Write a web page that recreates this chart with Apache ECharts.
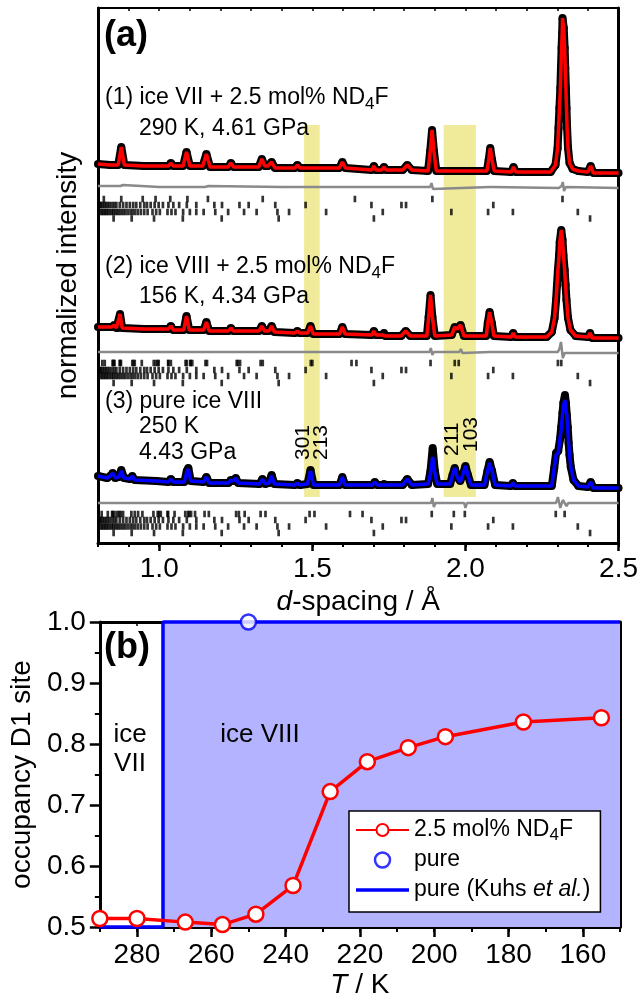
<!DOCTYPE html>
<html>
<head>
<meta charset="utf-8">
<script src="https://cdn.jsdelivr.net/npm/echarts@6/dist/echarts.min.js"></script>
<style>
html, body { margin: 0; padding: 0; background: #fff; }
#chart { width: 641px; height: 1000px; }
</style>
</head>
<body>
<div id="chart"></div>
<script>
var FONT = '"Liberation Sans", Arial, Helvetica, sans-serif';

// ---- panel (a): d-spacing (Å) vs stacked normalized intensity ----
var obs1 = [[0.800,379],[0.840,378],[0.866,378],[0.876,396],[0.886,378],[0.950,377],[1.030,377],[1.038,380],[1.046,377],
  [1.078,377],[1.089,391],[1.100,377],[1.142,377],[1.154,389],[1.166,376],[1.225,376],[1.234,380],[1.243,376],
  [1.325,376],[1.335,384],[1.345,377],[1.355,377],[1.367,381],[1.378,375],[1.443,375],[1.451,378],[1.460,375],
  [1.588,375],[1.598,381],[1.608,375],[1.694,373],[1.701,377],[1.708,373],[1.727,373],[1.734,376],[1.741,373],
  [1.795,373],[1.810,378],[1.825,373],[1.878,372],[1.885,392],[1.891,413],[1.897,392],[1.905,372],
  [2.070,372],[2.076,383],[2.081,395],[2.087,383],[2.094,372],[2.150,371],[2.157,376],[2.165,371],
  [2.278,371],[2.294,378],[2.301,395],[2.304,415],[2.307,435],[2.310,455],[2.312,475],[2.314,495],[2.316,510],[2.317,525],
  [2.321,515],[2.324,495],[2.326,475],[2.328,455],[2.330,435],[2.332,415],[2.335,395],[2.340,380],[2.350,374],[2.369,372],
  [2.400,371],[2.409,377],[2.418,370],[2.500,370]];
var calc1 = obs1;
var diff1 = [[0.800,357],[0.874,357],[0.877,355],[0.881,358],[0.885,356],[1.000,356],[1.150,356],[1.155,354],[1.160,357],
  [1.400,356],[1.600,356],[1.885,356],[1.889,360],[1.894,354],[1.899,356],[2.080,356],[2.083,354],[2.087,356],
  [2.305,355],[2.314,357],[2.318,361],[2.322,352],[2.328,356],[2.500,355]];

var obs2 = [[0.800,216],[0.845,216],[0.853,218],[0.860,215],[0.866,215],[0.872,229],[0.879,215],[0.950,214],[1.030,214],
  [1.038,217],[1.046,213],[1.080,213],[1.089,227],[1.098,213],[1.145,213],[1.154,221],[1.163,212],[1.226,212],[1.234,215],
  [1.242,212],[1.326,212],[1.335,217],[1.344,212],[1.358,212],[1.367,217],[1.376,211],[1.443,210],[1.451,212],[1.459,210],
  [1.485,210],[1.494,217],[1.503,209],[1.589,209],[1.598,216],[1.607,209],[1.694,208],[1.701,212],[1.708,208],[1.728,208],
  [1.734,210],[1.740,207],[1.790,207],[1.805,212],[1.820,207],[1.874,207],[1.880,226],[1.886,248],[1.892,226],[1.900,207],
  [1.955,208],[1.965,216],[1.973,214],[1.984,218],[1.995,207],[2.068,207],[2.073,220],[2.079,231],[2.086,220],[2.093,207],
  [2.150,206],[2.156,210],[2.163,206],[2.265,206],[2.282,211],[2.291,225],[2.296,243],[2.299,258],[2.302,273],[2.306,288],
  [2.308,301],[2.313,313],[2.317,303],[2.320,288],[2.324,273],[2.327,258],[2.330,243],[2.335,225],[2.343,213],[2.360,207],
  [2.400,206],[2.407,210],[2.414,205],[2.500,205]];
var calc2 = obs2;
var diff2 = [[0.800,191],[0.872,191],[0.875,189],[0.878,192],[1.000,191],[1.400,191],[1.883,191],[1.887,195],[1.892,188],
  [1.897,191],[1.980,191],[1.985,194],[1.990,190],[2.080,191],[2.302,191],[2.308,195],[2.312,201],[2.318,185],[2.324,190],
  [2.330,191],[2.500,190]];

var obs3 = [[0.800,67],[0.830,65],[0.840,67],[0.848,70],[0.856,65],[0.868,66],[0.876,73],[0.885,65],[0.905,64],[0.912,67],
  [0.920,63],[0.990,62],[1.030,61],[1.038,64],[1.046,61],[1.082,61],[1.090,72],[1.095,75],[1.103,62],[1.145,61],[1.154,66],
  [1.163,60],[1.226,60],[1.234,63],[1.242,62],[1.250,65],[1.258,60],[1.328,59],[1.337,64],[1.346,59],[1.358,60],[1.367,68],
  [1.376,59],[1.443,58],[1.451,60],[1.459,58],[1.484,59],[1.494,73],[1.504,58],[1.589,58],[1.598,66],[1.607,58],[1.696,58],
  [1.704,61],[1.712,58],[1.728,58],[1.734,59],[1.740,58],[1.795,58],[1.810,64],[1.825,58],[1.878,59],[1.886,72],[1.893,95],
  [1.900,72],[1.908,59],[1.950,59],[1.958,68],[1.965,75],[1.973,66],[1.983,62],[1.991,68],[2.000,77],[2.008,68],[2.018,58],
  [2.062,58],[2.072,72],[2.079,81],[2.087,72],[2.097,58],[2.148,57],[2.155,60],[2.162,57],[2.282,57],[2.290,75],[2.296,90],
  [2.303,92],[2.309,104],[2.313,116],[2.317,130],[2.320,140],[2.325,148],[2.328,140],[2.331,128],[2.334,116],[2.337,100],
  [2.340,88],[2.344,76],[2.353,63],[2.369,57],[2.400,56],[2.409,61],[2.418,55],[2.500,55]];
var calc3 = [[0.800,67],[0.830,65],[0.840,67],[0.848,70],[0.856,65],[0.868,66],[0.876,72],[0.885,65],[0.905,64],[0.912,67],
  [0.920,63],[0.990,62],[1.030,61],[1.038,64],[1.046,61],[1.082,61],[1.090,71],[1.095,74],[1.103,62],[1.145,61],[1.154,66],
  [1.163,60],[1.226,60],[1.234,63],[1.242,62],[1.250,65],[1.258,60],[1.328,59],[1.337,64],[1.346,59],[1.358,60],[1.367,67],
  [1.376,59],[1.443,58],[1.451,60],[1.459,58],[1.484,59],[1.494,72],[1.504,58],[1.589,58],[1.598,66],[1.607,58],[1.696,58],
  [1.704,61],[1.712,58],[1.728,58],[1.734,59],[1.740,58],[1.795,58],[1.810,64],[1.825,58],[1.878,59],[1.886,70],[1.893,86],
  [1.900,70],[1.908,59],[1.950,59],[1.958,68],[1.965,75],[1.973,66],[1.983,61],[1.991,68],[2.000,77],[2.008,68],[2.018,58],
  [2.062,58],[2.072,72],[2.079,80],[2.087,72],[2.097,58],[2.148,57],[2.155,60],[2.162,57],[2.282,57],[2.290,75],[2.296,88],
  [2.303,90],[2.313,115],[2.320,138],[2.325,143],[2.331,128],[2.337,100],[2.344,76],[2.353,63],[2.369,57],[2.400,56],
  [2.409,61],[2.418,55],[2.500,55]];
var diff3 = [[0.800,40],[0.874,40],[0.877,38],[0.880,40],[1.400,40],[1.495,40],[1.498,38],[1.502,40],[1.888,40],[1.892,45],
  [1.897,36],[1.902,40],[1.996,40],[2.000,35],[2.005,40],[2.296,40],[2.302,46],[2.310,35],[2.318,43],[2.324,42],[2.330,37],
  [2.336,40],[2.500,40]];

// reflection tick marks (d, Å): row 1 = ice phase, rows 2-4 = other phases in the cell
var iceVIITicks = [0.819,0.876,0.946,0.988,1.036,1.092,1.159,1.338,1.639,1.892,2.317];
var iceVIII2Ticks = [0.814,0.822,0.848,0.849,0.851,0.854,0.871,0.872,0.875,0.912,0.916,0.920,0.943,0.982,0.989,0.995,0.998,
  1.029,1.030,1.038,1.086,1.090,1.101,1.103,1.108,1.151,1.156,1.253,1.257,1.264,1.331,1.338,1.495,1.500,1.628,1.644,
  1.886,1.965,1.978,2.302,2.313];
var iceVIII3Ticks = [0.812,0.832,0.846,0.848,0.854,0.863,0.869,0.874,0.882,0.909,0.920,0.931,0.945,0.981,0.995,0.999,1.005,
  1.027,1.029,1.050,1.085,1.094,1.098,1.104,1.117,1.148,1.162,1.251,1.260,1.279,1.331,1.347,1.491,1.507,1.623,1.664,
  1.890,1.962,1.998,2.295,2.324];
var phaseBTicks = [0.803,0.806,0.810,0.815,0.821,0.826,0.832,0.838,0.846,0.853,0.860,0.871,0.882,0.893,0.904,0.915,0.925,
  0.938,0.951,0.960,0.972,0.985,0.998,1.012,1.030,1.046,1.065,1.090,1.121,1.180,1.205,1.262,1.292,1.379,1.478,1.693,
  1.791,1.806,2.091];
var phaseCTicks = [0.808,0.813,0.818,0.823,0.828,0.833,0.839,0.845,0.850,0.856,0.862,0.868,0.875,0.882,0.889,0.897,0.906,
  0.913,0.921,0.930,0.940,0.951,0.962,0.978,0.990,1.002,1.027,1.040,1.053,1.078,1.100,1.121,1.145,1.183,1.225,1.277,
  1.318,1.386,1.424,1.545,1.730,1.954,2.074,2.155,2.367];
var phaseDTicks = [0.802,0.851,0.910,0.983,1.077,1.204,1.390,1.701,2.407];
var tickRows1 = [344, 338, 331, 324.5];
var tickRows2 = [180, 173, 167, 160];
var tickRows3 = [29, 23, 16.5, 10];

// highlighted d-ranges (Å)
var bands = [[1.473, 1.524], [1.929, 2.034]];
var bandLevels = [46, 418];

// ---- panel (b): occupancy of D1 site vs temperature ----
var tempND4F = [290, 280, 267, 257, 248, 238, 228, 218, 207, 197, 176, 155];
var occND4F = [0.514, 0.514, 0.508, 0.504, 0.521, 0.568, 0.722, 0.771, 0.794, 0.812, 0.836, 0.843];
var tempPure = [250];
var occPure = [1.0];
var tempKuhs = [290, 273, 273, 150];
var occKuhs = [0.5, 0.5, 1.0, 1.0];

function zip(xs, ys) {
  return xs.map(function (x, i) { return [x, ys[i]]; });
}
function tickData(lists, levels) {
  var out = [];
  lists.forEach(function (list, i) {
    list.forEach(function (d) { out.push([d, levels[i]]); });
  });
  return out;
}

var chart = echarts.init(document.getElementById('chart'));

var txt = { fontFamily: FONT, color: '#000' };
function lineAxis(extra) {
  return Object.assign({
    axisLine: { show: true, lineStyle: { color: '#000', width: 3 } },
    axisTick: { show: false },
    axisLabel: { show: false },
    splitLine: { show: false }
  }, extra);
}

function obsSeries(data) {
  return {
    type: 'line', xAxisIndex: 0, yAxisIndex: 0, data: data, z: 3,
    symbol: 'circle', symbolSize: 8, showSymbol: true,
    itemStyle: { color: '#000' },
    lineStyle: { color: '#000', width: 8 },
    silent: true, animation: false
  };
}
function fitSeries(data, color) {
  return {
    type: 'line', xAxisIndex: 0, yAxisIndex: 0, data: data, z: 4,
    symbol: 'none', lineStyle: { color: color, width: 3.5 },
    silent: true, animation: false
  };
}
function diffSeries(data) {
  return {
    type: 'line', xAxisIndex: 0, yAxisIndex: 0, data: data, z: 3,
    symbol: 'none', lineStyle: { color: '#8a8a8a', width: 2.5 },
    silent: true, animation: false
  };
}
function tickSeries(data) {
  return {
    type: 'scatter', xAxisIndex: 0, yAxisIndex: 0, data: data, z: 3,
    symbol: 'rect', symbolSize: [2.7, 6.5], itemStyle: { color: '#000' },
    silent: true, animation: false
  };
}
function label(x, y, text, size, extra) {
  return {
    type: 'text', x: x, y: y, z: 100, rotation: (extra && extra.rotation) || 0,
    style: Object.assign({
      text: text, font: size + 'px ' + FONT, fill: '#000', verticalAlign: 'middle'
    }, extra && extra.style)
  };
}
var subRich = { s: { font: '17px ' + FONT, verticalAlign: 'bottom', lineHeight: 14 } };

var option = {
  backgroundColor: '#fff',
  animation: false,
  textStyle: { fontFamily: FONT },
  grid: [
    { left: 98, top: 8, width: 522, height: 535 },
    { left: 98, top: 622, width: 522, height: 305 }
  ],
  xAxis: [
    {
      gridIndex: 0, type: 'value', position: 'bottom', min: 0.8, max: 2.5, interval: 0.1,
      axisLine: { lineStyle: { color: '#000', width: 3 } },
      axisTick: { length: 4, lineStyle: { color: '#000', width: 2 } },
      axisLabel: Object.assign({
        fontSize: 28, margin: 12,
        formatter: function (v) {
          var r = Math.round(v * 10);
          return (r % 5 === 0 && r >= 10) ? (r / 10).toFixed(1) : '';
        }
      }, txt),
      splitLine: { show: false },
      name: '{i|d}-spacing / Å', nameLocation: 'middle', nameGap: 40,
      nameTextStyle: Object.assign({ fontSize: 28, rich: { i: { fontSize: 28, fontStyle: 'italic', fontFamily: FONT } } }, txt)
    },
    {
      gridIndex: 0, type: 'value', position: 'bottom', min: 0.8, max: 2.5, interval: 0.1,
      axisLine: { show: false },
      axisTick: { length: 8, customValues: [1.0, 1.5, 2.0, 2.5], lineStyle: { color: '#000', width: 2.5 } },
      axisLabel: { show: false }, splitLine: { show: false }
    },
    lineAxis({
      gridIndex: 0, type: 'value', position: 'top', min: 0.8, max: 2.5, interval: 0.1,
      axisLine: { lineStyle: { color: '#000', width: 2 } },
      axisTick: { show: true, inside: true, length: 3, lineStyle: { color: '#000', width: 1.5 } }
    }),
    {
      gridIndex: 1, type: 'value', position: 'bottom', min: 150, max: 290, interval: 10, inverse: true,
      axisLine: { lineStyle: { color: '#000', width: 3 } },
      axisTick: { length: 5, lineStyle: { color: '#000', width: 2 } },
      axisLabel: Object.assign({
        fontSize: 28, margin: 14,
        formatter: function (v) { return v % 20 === 0 ? String(v) : ''; }
      }, txt),
      splitLine: { show: false },
      name: '{i|T} / K', nameLocation: 'middle', nameGap: 44,
      nameTextStyle: Object.assign({ fontSize: 28, rich: { i: { fontSize: 28, fontStyle: 'italic', fontFamily: FONT } } }, txt)
    },
    {
      gridIndex: 1, type: 'value', position: 'bottom', min: 150, max: 290, interval: 10, inverse: true,
      axisLine: { show: false },
      axisTick: { length: 10, customValues: [160, 180, 200, 220, 240, 260, 280], lineStyle: { color: '#000', width: 2.5 } },
      axisLabel: { show: false }, splitLine: { show: false }
    },
    lineAxis({
      gridIndex: 1, type: 'value', position: 'top', min: 150, max: 290, interval: 10, inverse: true,
      axisTick: { show: true, inside: true, length: 4, lineStyle: { color: '#000', width: 1.5 } }
    })
  ],
  yAxis: [
    lineAxis({
      gridIndex: 0, type: 'value', position: 'left', min: 0, max: 535,
      name: 'normalized intensity', nameLocation: 'middle', nameGap: 16,
      nameTextStyle: Object.assign({ fontSize: 28 }, txt)
    }),
    lineAxis({ gridIndex: 0, type: 'value', position: 'right', min: 0, max: 535 }),
    {
      gridIndex: 1, type: 'value', position: 'left', min: 0.5, max: 1.0, interval: 0.1,
      axisLine: { lineStyle: { color: '#000', width: 3 } },
      axisTick: { length: 10, lineStyle: { color: '#000', width: 2.5 } },
      minorTick: { show: true, splitNumber: 2, length: 5, lineStyle: { color: '#000', width: 2 } },
      axisLabel: Object.assign({ fontSize: 28, margin: 14, formatter: function (v) { return v.toFixed(1); } }, txt),
      splitLine: { show: false },
      name: 'occupancy D1 site', nameLocation: 'middle', nameGap: 62,
      nameTextStyle: Object.assign({ fontSize: 28 }, txt)
    },
    lineAxis({ gridIndex: 1, type: 'value', position: 'right', min: 0.5, max: 1.0 })
  ],
  legend: {
    data: [
      { name: 'nd4f' },
      { name: 'pure', icon: 'circle', itemStyle: { color: '#fff', borderColor: '#0000ff', borderWidth: 2.5 } },
      { name: 'kuhs', icon: 'path://M0,0H53V3.5H0Z', itemStyle: { color: '#0000ff', borderWidth: 0 } }
    ],
    orient: 'vertical', left: 349, top: 811,
    backgroundColor: '#fff', borderColor: '#000', borderWidth: 1.5, borderRadius: 0,
    padding: [5, 10, 8, 6], itemGap: 2, itemWidth: 53, itemHeight: 15,
    selectedMode: false,
    textStyle: {
      fontFamily: FONT, fontSize: 23, color: '#000', lineHeight: 28,
      rich: {
        s: { fontFamily: FONT, fontSize: 17, verticalAlign: 'bottom', lineHeight: 14 },
        i: { fontFamily: FONT, fontSize: 23, fontStyle: 'italic' }
      }
    },
    formatter: function (name) {
      if (name === 'nd4f') return '2.5 mol% ND{s|4}F';
      if (name === 'pure') return 'pure';
      return 'pure (Kuhs {i|et al.})';
    }
  },
  graphic: [
    label(104, 36, '(a)', 36, { style: { font: 'bold 36px ' + FONT } }),
    label(105, 98, '(1) ice VII + 2.5 mol% ND{s|4}F', 23, { style: { lineHeight: 30, rich: subRich } }),
    label(139, 129, '290 K, 4.61 GPa', 23),
    label(105, 267, '(2) ice VIII + 2.5 mol% ND{s|4}F', 23, { style: { lineHeight: 30, rich: subRich } }),
    label(139, 297, '156 K, 4.34 GPa', 23),
    label(105, 402, '(3) pure ice VIII', 23),
    label(139, 427, '250 K', 23),
    label(139, 453, '4.43 GPa', 23),
    label(303, 460, '301', 21, { rotation: Math.PI / 2, style: { align: 'left' } }),
    label(321, 460, '213', 21, { rotation: Math.PI / 2, style: { align: 'left' } }),
    label(452, 456, '211', 21, { rotation: Math.PI / 2, style: { align: 'left' } }),
    label(471, 452, '103', 21, { rotation: Math.PI / 2, style: { align: 'left' } }),
    label(104, 648, '(b)', 36, { style: { font: 'bold 36px ' + FONT } }),
    label(130, 735, 'ice', 26, { style: { align: 'center' } }),
    label(130, 764, 'VII', 26, { style: { align: 'center' } }),
    label(260, 735, 'ice VIII', 26, { style: { align: 'center' } })
  ],
  series: [
    {
      type: 'line', xAxisIndex: 0, yAxisIndex: 0, data: [], z: 1, silent: true,
      markArea: {
        silent: true, itemStyle: { color: '#efeb9b' },
        data: bands.map(function (b) {
          return [{ xAxis: b[0], yAxis: bandLevels[0] }, { xAxis: b[1], yAxis: bandLevels[1] }];
        })
      }
    },
    diffSeries(diff1), diffSeries(diff2), diffSeries(diff3),
    obsSeries(obs1), obsSeries(obs2), obsSeries(obs3),
    fitSeries(calc1, '#ff0000'), fitSeries(calc2, '#ff0000'), fitSeries(calc3, '#0000ff'),
    tickSeries(tickData([iceVIITicks, phaseBTicks, phaseCTicks, phaseDTicks], tickRows1)),
    tickSeries(tickData([iceVIII2Ticks, phaseBTicks, phaseCTicks, phaseDTicks], tickRows2)),
    tickSeries(tickData([iceVIII3Ticks, phaseBTicks, phaseCTicks, phaseDTicks], tickRows3)),
    {
      name: 'kuhs', type: 'line', xAxisIndex: 3, yAxisIndex: 2, data: zip(tempKuhs, occKuhs),
      symbol: 'none', clip: false, z: 2,
      lineStyle: { color: '#0000ff', width: 3.5 },
      itemStyle: { color: '#0000ff' },
      areaStyle: { color: '#b3b3ff', opacity: 1, origin: 'start' }
    },
    {
      name: 'nd4f', type: 'line', xAxisIndex: 3, yAxisIndex: 2, data: zip(tempND4F, occND4F),
      symbol: 'circle', symbolSize: 15, clip: false, z: 4,
      lineStyle: { color: '#ff0000', width: 3.5 },
      itemStyle: { color: '#fff', borderColor: '#ff0000', borderWidth: 2.5 }
    },
    {
      name: 'pure', type: 'scatter', xAxisIndex: 3, yAxisIndex: 2, data: zip(tempPure, occPure),
      symbol: 'circle', symbolSize: 15, clip: false, z: 4,
      itemStyle: { color: '#fff', borderColor: '#0000ff', borderWidth: 2.5 }
    }
  ]
};

chart.setOption(option);
</script>
</body>
</html>
